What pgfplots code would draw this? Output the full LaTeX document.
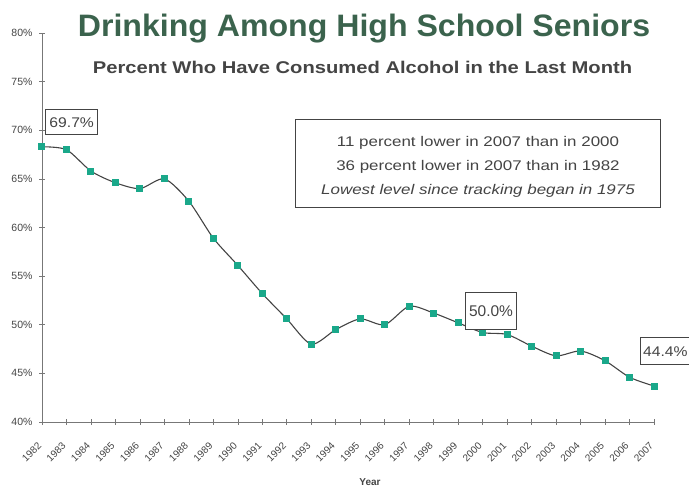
\documentclass[border=0pt]{standalone}
\usepackage{fontspec}
\setmainfont{Liberation Sans}
\usepackage{pgfplots}
\pgfplotsset{compat=1.18}

\definecolor{titlegreen}{HTML}{3B634D}
\definecolor{markteal}{HTML}{1AA88A}
\definecolor{axisgray}{HTML}{777777}
\definecolor{textgray}{HTML}{444444}

\begin{document}
\begin{tikzpicture}[x=1pt,y=1pt]
\path[use as bounding box] (0,0) rectangle (689,487);
\begin{axis}[
    at={(42pt,65pt)}, anchor=south west,
    scale only axis,
    width=612pt, height=389pt,
    xmin=1982, xmax=2007,
    ymin=40, ymax=80,
    axis lines=left,
    axis line style={-, axisgray, line width=0.8pt},
    clip=false,
    xtick={1982,...,2007},
    ytick={40,45,...,80},
    yticklabels={40\%,45\%,50\%,55\%,60\%,65\%,70\%,75\%,80\%},
    xticklabel style={anchor=north east, xshift=-5pt, yshift=-12pt, rotate=45,
                      font=\fontsize{10}{11}\selectfont, text=textgray},
    yticklabel style={font=\fontsize{10.5}{11}\selectfont, text=textgray, xshift=-3pt},
    /pgf/number format/assume math mode=true,
    /pgf/number format/1000 sep={},
    tick align=center,
    major tick length=6pt,
    tick style={axisgray, line width=0.6pt},
    xlabel={Year},
    xlabel style={font=\bfseries\fontsize{10}{11}\selectfont, text=textgray,
                  at={(axis description cs:0.536,0)}, anchor=south, yshift=-67pt},
]
\addplot[smooth, tension=0.45, draw=textgray, line width=1.1pt,
         mark=square*, mark size=3pt,
         mark options={draw=markteal, fill=markteal, line width=0pt}]
coordinates {
(1982,68.3) (1983,68.0) (1984,65.8) (1985,64.6) (1986,64.0)
(1987,65.0) (1988,62.7) (1989,58.9) (1990,56.1) (1991,53.2)
(1992,50.6) (1993,48.0) (1994,49.5) (1995,50.6) (1996,50.0)
(1997,51.9) (1998,51.2) (1999,50.2) (2000,49.2) (2001,49.0)
(2002,47.8) (2003,46.8) (2004,47.3) (2005,46.3) (2006,44.6)
(2007,43.7)
};
\end{axis}

% titles
\node[anchor=base, text=titlegreen, font=\bfseries\fontsize{31}{34}\selectfont] at (364,450)
  {\scalebox{1.035}[1]{Drinking Among High School Seniors}};
\node[anchor=base, text=textgray, font=\bfseries\fontsize{17}{19}\selectfont] at (362.5,413)
  {\scalebox{1.187}[1]{Percent Who Have Consumed Alcohol in the Last Month}};

% note box
\draw[textgray, line width=1pt, fill=white] (295,279) rectangle (660,367);
\node[anchor=base, text=textgray, font=\fontsize{14}{15}\selectfont] at (478,340.3)
  {\scalebox{1.21}[1]{11 percent lower in 2007 than in 2000}};
\node[anchor=base, text=textgray, font=\fontsize{14}{15}\selectfont] at (478,316.3)
  {\scalebox{1.21}[1]{36 percent lower in 2007 than in 1982}};
\node[anchor=base, text=textgray, font=\itshape\fontsize{14}{15}\selectfont] at (478,292)
  {\scalebox{1.21}[1]{Lowest level since tracking began in 1975}};

% value labels
\draw[textgray, line width=1pt, fill=white] (45.7,352) rectangle (97.7,377);
\node[anchor=base, text=textgray, font=\fontsize{14}{16}\selectfont] at (71.7,359.5)
  {\scalebox{1.12}[1]{69.7\%}};
\draw[textgray, line width=1pt, fill=white] (465,157.7) rectangle (516.7,194.3);
\node[anchor=base, text=textgray, font=\fontsize{15.5}{17}\selectfont] at (491,170) {50.0\%};
\draw[textgray, line width=1pt, fill=white] (640,122) rectangle (695,149);
\node[anchor=base west, inner sep=0pt, text=textgray, font=\fontsize{14}{16}\selectfont] at (643,130.5)
  {\scalebox{1.12}[1]{44.4\%}};
\end{tikzpicture}
\end{document}
